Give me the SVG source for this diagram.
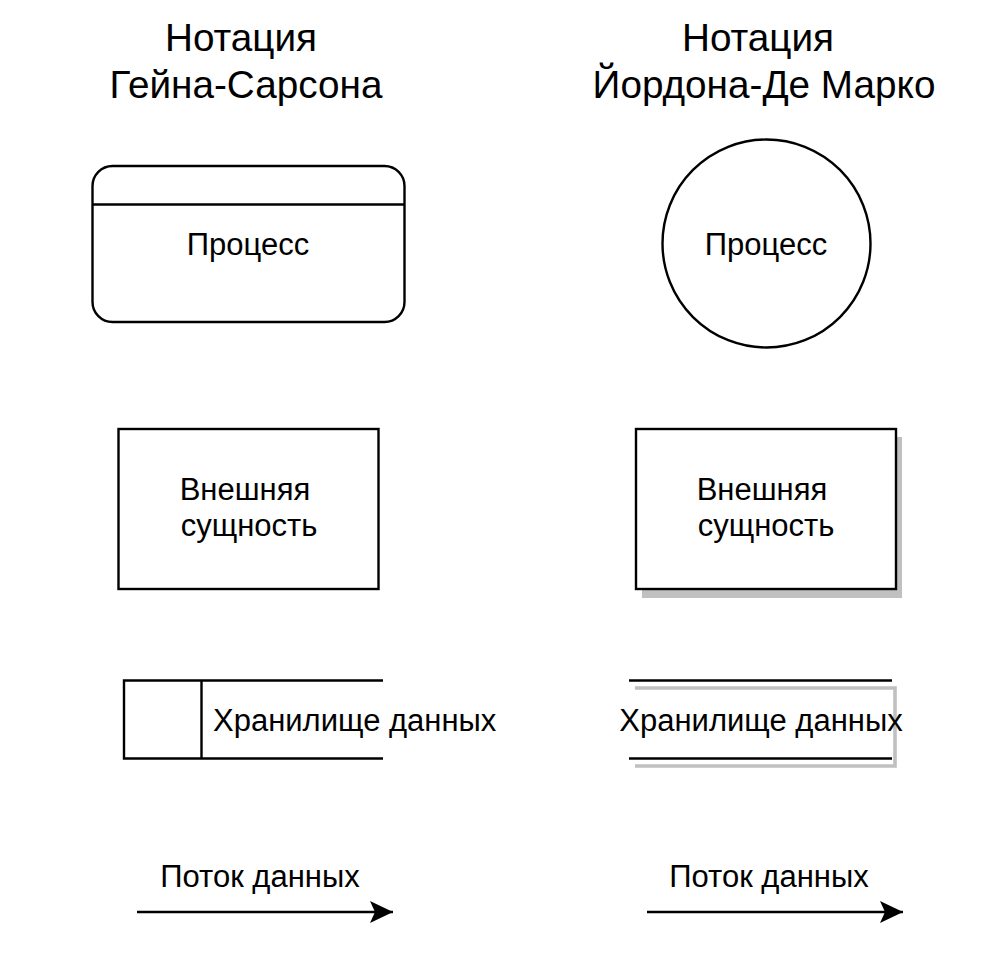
<svg xmlns="http://www.w3.org/2000/svg" width="1008" height="957" viewBox="0 0 1008 957">
<style>
  .s{fill:none;stroke:#000;stroke-width:2.4}
  .f{fill:#fff;stroke:#000;stroke-width:2.4}
  .sh{fill:none;stroke:#c0c0c0;stroke-width:3.6}
  .t{font-family:"Liberation Sans",Arial,sans-serif;font-size:31px;fill:#000}
  .h{font-family:"Liberation Sans",Arial,sans-serif;font-size:38.7px;fill:#000}
</style>
<defs>
  <marker id="arr" markerUnits="userSpaceOnUse" markerWidth="26" markerHeight="26" refX="23" refY="11" orient="auto">
    <path d="M0,0 L23,11 L0,22 L5,11 Z" fill="#000"/>
  </marker>
</defs>
<rect width="1008" height="957" fill="#fff"/>
<g id="title-left">
  <text class="h" x="241" y="51" text-anchor="middle">Нотация</text>
  <text class="h" x="246" y="98" text-anchor="middle">Гейна-Сарсона</text>
</g>
<g id="title-right">
  <text class="h" x="758" y="51" text-anchor="middle">Нотация</text>
  <text class="h" x="764" y="98" text-anchor="middle">Йордона-Де Марко</text>
</g>
<g id="process-gs">
  <rect class="f" x="92.5" y="166" width="312" height="156" rx="20" ry="20"/>
  <line class="s" x1="92.5" y1="204.5" x2="404.5" y2="204.5"/>
  <text class="t" x="248" y="255" text-anchor="middle">Процесс</text>
</g>
<g id="process-yd">
  <circle class="f" cx="766.5" cy="243.5" r="104"/>
  <text class="t" x="766" y="255" text-anchor="middle">Процесс</text>
</g>
<g id="entity-gs">
  <rect class="f" x="118.5" y="429" width="260" height="160"/>
  <text class="t" x="245" y="500" text-anchor="middle">Внешняя</text>
  <text class="t" x="249" y="536" text-anchor="middle">сущность</text>
</g>
<g id="entity-yd">
  <rect x="642" y="437" width="260" height="161" fill="#c0c0c0"/>
  <rect class="f" x="636" y="429" width="260" height="160"/>
  <text class="t" x="762" y="500" text-anchor="middle">Внешняя</text>
  <text class="t" x="766" y="536" text-anchor="middle">сущность</text>
</g>
<g id="store-gs">
  <path class="s" d="M383,680.5 H124 V758.5 H383 M201.5,680.5 V758.5"/>
  <text class="t" x="213" y="731">Хранилище данных</text>
</g>
<g id="store-yd">
  <path class="sh" d="M635,688 H895 V766 H635"/>
  <line class="s" x1="629" y1="680.5" x2="892" y2="680.5"/>
  <line class="s" x1="629" y1="758.5" x2="892" y2="758.5"/>
  <text class="t" x="761" y="731" text-anchor="middle">Хранилище данных</text>
</g>
<g id="connectors">
  <line class="s" x1="137" y1="912" x2="393" y2="912" marker-end="url(#arr)"/>
  <line class="s" x1="647" y1="912" x2="903" y2="912" marker-end="url(#arr)"/>
</g>
<g id="flow-labels">
  <text class="t" x="260" y="887" text-anchor="middle">Поток данных</text>
  <text class="t" x="769" y="887" text-anchor="middle">Поток данных</text>
</g>
</svg>
